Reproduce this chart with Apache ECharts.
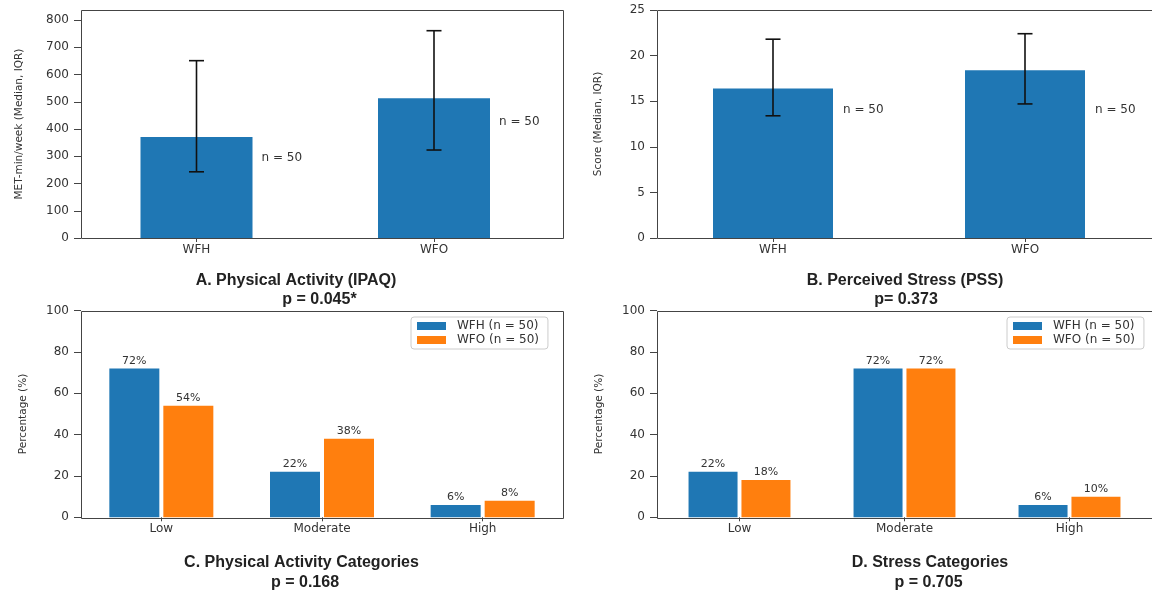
<!DOCTYPE html>
<html><head><meta charset="utf-8">
<script src="https://cdn.jsdelivr.net/npm/echarts@6/dist/echarts.min.js"></script>
<style>html,body{margin:0;padding:0;background:#fff}#c{width:1152px;height:591px}</style>
</head><body><div id="c"></div>
<script>
// ---- data ----
const groups = ['WFH', 'WFO'];
const paMedian = [371, 513];
const paQ1 = [243, 323];
const paQ3 = [651, 761];
const paNLabelY = [294, 426];
const paYTicks = [0, 100, 200, 300, 400, 500, 600, 700, 800];
const pssMedian = [16.4, 18.4];
const pssQ1 = [13.4, 14.7];
const pssQ3 = [21.8, 22.4];
const pssNLabelY = [14, 14];
const pssYTicks = [0, 5, 10, 15, 20, 25];
const levels = ['Low', 'Moderate', 'High'];
const paCatWFH = [72, 22, 6];
const paCatWFO = [54, 38, 8];
const stressCatWFH = [22, 72, 6];
const stressCatWFO = [18, 72, 10];
const pctTicks = [0, 20, 40, 60, 80, 100];
const nText = 'n = 50';
const legendNames = ['WFH (n = 50)', 'WFO (n = 50)'];
const captionTitles = ['A. Physical Activity (IPAQ)', 'B. Perceived Stress (PSS)', 'C. Physical Activity Categories', 'D. Stress Categories'];
const captionP = ['p = 0.045*', 'p= 0.373', 'p = 0.168', 'p = 0.705'];
const yNames = ['MET-min/week (Median, IQR)', 'Score (Median, IQR)', 'Percentage (%)', 'Percentage (%)'];

// ---- styles ----
const BLUE = '#1f77b4', ORANGE = '#ff7f0e';
const FONT = 'DejaVu Sans';
const TXT = '#333';
const chart = echarts.init(document.getElementById('c'), null, {renderer: 'canvas'});

const grids = [
  {left: 77.75, top: 10, width: 475, height: 228},
  {left: 647, top: 10, width: 504, height: 228},
  {left: 81, top: 310.7, width: 482, height: 206.6},
  {left: 657, top: 310.7, width: 495, height: 206.6}
];
const frames = [
  [81, 10, 482, 228],
  [657, 10, 520, 228],
  [81, 310.7, 482, 206.6],
  [657, 310.7, 520, 206.6]
];

function xAx(i, cats) {
  return {type: 'category', gridIndex: i, data: cats,
    axisLine: {show: false},
    axisTick: {show: true, alignWithLabel: true, length: 4, lineStyle: {color: '#444'}},
    axisLabel: {margin: 6, fontFamily: FONT, fontSize: 12, color: TXT}};
}
function yAx(i, max, ticks, offset, gap) {
  return {type: 'value', gridIndex: i, min: 0, max: max, offset: offset,
    name: yNames[i], nameLocation: 'middle', nameGap: gap,
    nameTextStyle: {fontFamily: FONT, fontSize: 10.5, color: TXT},
    axisLine: {show: false},
    splitLine: {show: false},
    axisTick: {show: true, length: 7, customValues: ticks, lineStyle: {color: '#444'}},
    axisLabel: {margin: 12, fontFamily: FONT, fontSize: 12, color: TXT, customValues: ticks}};
}

function errRender(params, api) {
  const x = api.value(0), lo = api.value(1), hi = api.value(2);
  const a = api.coord([x, lo]), b = api.coord([x, hi]);
  const cap = 7.5, st = {stroke: '#111', lineWidth: 1.6};
  return {type: 'group', children: [
    {type: 'line', shape: {x1: a[0], y1: a[1], x2: b[0], y2: b[1]}, style: st},
    {type: 'line', shape: {x1: a[0] - cap, y1: a[1], x2: a[0] + cap, y2: a[1]}, style: st},
    {type: 'line', shape: {x1: b[0] - cap, y1: b[1], x2: b[0] + cap, y2: b[1]}, style: st}
  ]};
}
function nRender(dx) {
  return function (params, api) {
    const p = api.coord([api.value(0), api.value(1)]);
    return {type: 'text', x: p[0] + dx, y: p[1],
      style: {text: nText, fill: TXT, font: '12px "DejaVu Sans"', textAlign: 'left', textVerticalAlign: 'middle'}};
  };
}
function catBar(name, data, axis, color, bw) {
  return {type: 'bar', name: name, xAxisIndex: axis, yAxisIndex: axis, data: data,
    barWidth: bw, barGap: '8%', itemStyle: {color: color},
    label: {show: true, position: 'top', distance: 2, formatter: '{c}%', fontFamily: FONT, fontSize: 11, color: TXT}};
}
function legendAt(left) {
  return {show: true, data: legendNames, left: left, top: 317, orient: 'vertical',
    padding: [2, 9, 2, 6], itemGap: 0, itemWidth: 29, itemHeight: 8, icon: 'rect',
    backgroundColor: '#fff', borderColor: '#ccc', borderWidth: 1, borderRadius: 3,
    selectedMode: false,
    textStyle: {fontFamily: FONT, fontSize: 12, color: TXT, lineHeight: 14, padding: [0, 0, 0, 6]}};
}

const graphics = [];
frames.forEach(f => graphics.push({type: 'rect', z: 100, silent: true,
  shape: {x: f[0] + 0.5, y: Math.round(f[1]) + 0.5, width: f[2], height: Math.round(f[3])},
  style: {fill: 'none', stroke: '#444', lineWidth: 1}}));
const capPos = [[296, 281, 319.5, 300], [905, 281, 906, 300], [301.5, 563, 305, 583], [930, 563, 928.5, 583]];
capPos.forEach((c, i) => {
  graphics.push({type: 'text', x: c[0], y: c[1], style: {text: captionTitles[i], fill: '#222',
    font: 'bold 16px "Liberation Sans"', textAlign: 'center', textVerticalAlign: 'middle'}});
  graphics.push({type: 'text', x: c[2], y: c[3], style: {text: captionP[i], fill: '#222',
    font: 'bold 16px "Liberation Sans"', textAlign: 'center', textVerticalAlign: 'middle'}});
});

chart.setOption({
  animation: false,
  backgroundColor: '#fff',
  grid: grids,
  legend: [legendAt(411), legendAt(1007)],
  xAxis: [xAx(0, groups), xAx(1, groups), xAx(2, levels), xAx(3, levels)],
  yAxis: [yAx(0, 837, paYTicks, -3.25, 56), yAx(1, 25, pssYTicks, -10, 53), yAx(2, 100, pctTicks, 0, 52), yAx(3, 100, pctTicks, 0, 52)],
  series: [
    {type: 'bar', name: 'PA median', xAxisIndex: 0, yAxisIndex: 0, data: paMedian, barWidth: 112, itemStyle: {color: BLUE}},
    {type: 'custom', name: 'PA IQR', xAxisIndex: 0, yAxisIndex: 0, renderItem: errRender, z: 5,
      data: groups.map((g, i) => [i, paQ1[i], paQ3[i]])},
    {type: 'custom', name: 'PA n', xAxisIndex: 0, yAxisIndex: 0, renderItem: nRender(65),
      data: groups.map((g, i) => [i, paNLabelY[i]])},
    {type: 'bar', name: 'PSS median', xAxisIndex: 1, yAxisIndex: 1, data: pssMedian, barWidth: 120, itemStyle: {color: BLUE}},
    {type: 'custom', name: 'PSS IQR', xAxisIndex: 1, yAxisIndex: 1, renderItem: errRender, z: 5,
      data: groups.map((g, i) => [i, pssQ1[i], pssQ3[i]])},
    {type: 'custom', name: 'PSS n', xAxisIndex: 1, yAxisIndex: 1, renderItem: nRender(70),
      data: groups.map((g, i) => [i, pssNLabelY[i]])},
    catBar(legendNames[0], paCatWFH, 2, BLUE, 50),
    catBar(legendNames[1], paCatWFO, 2, ORANGE, 50),
    catBar(legendNames[0], stressCatWFH, 3, BLUE, 49),
    catBar(legendNames[1], stressCatWFO, 3, ORANGE, 49)
  ],
  graphic: graphics
});
</script></body></html>
